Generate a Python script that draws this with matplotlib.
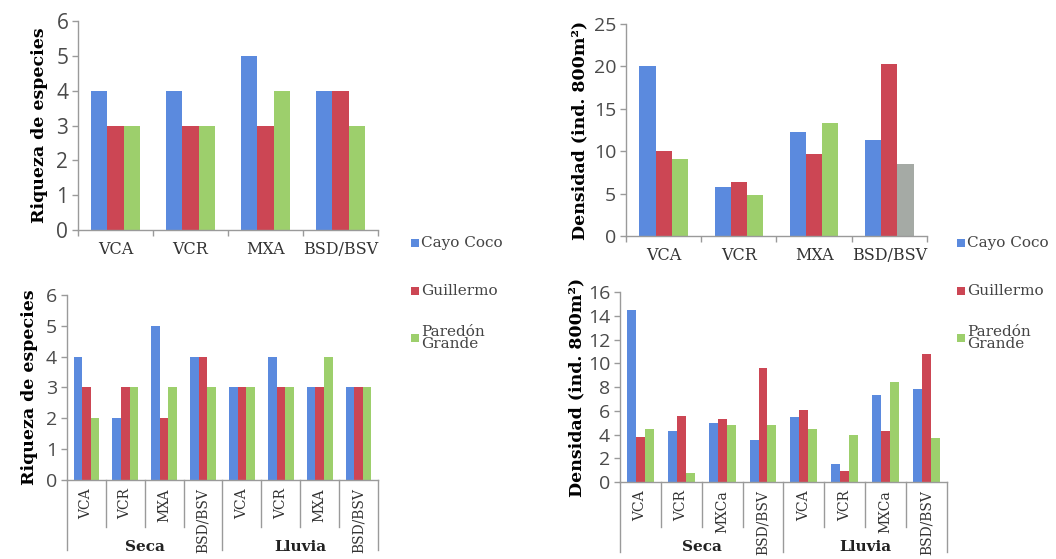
import matplotlib
matplotlib.use("Agg")
import matplotlib.pyplot as plt
from matplotlib.patches import Rectangle
import matplotlib.transforms as mtransforms
import numpy as np

# ---- data ----
sites = ["Cayo Coco", "Guillermo", "Paredón\nGrande"]
habitats = ["VCA", "VCR", "MXA", "BSD/BSV"]
habitats_season_rich = ["VCA", "VCR", "MXA", "BSD/BSV", "VCA", "VCR", "MXA", "BSD/BSV"]
habitats_season_dens = ["VCA", "VCR", "MXCa", "BSD/BSV", "VCA", "VCR", "MXCa", "BSD/BSV"]
seasons = ["Seca", "Lluvia"]

rich_cayo = [4, 4, 5, 4]
rich_guill = [3, 3, 3, 4]
rich_pared = [3, 3, 4, 3]

dens_cayo = [20.0, 5.8, 12.3, 11.3]
dens_guill = [10.0, 6.4, 9.7, 20.3]
dens_pared = [9.1, 4.8, 13.3, 8.5]

rich_s_cayo = [4, 2, 5, 4, 3, 4, 3, 3]
rich_s_guill = [3, 3, 2, 4, 3, 3, 3, 3]
rich_s_pared = [2, 3, 3, 3, 3, 3, 4, 3]

dens_s_cayo = [14.5, 4.3, 5.0, 3.5, 5.5, 1.5, 7.3, 7.8]
dens_s_guill = [3.8, 5.6, 5.3, 9.6, 6.1, 0.9, 4.3, 10.8]
dens_s_pared = [4.5, 0.8, 4.8, 4.8, 4.5, 4.0, 8.4, 3.7]

# ---- style ----
C_BLUE = "#5b8ade"
C_RED = "#cc4654"
C_GREEN = "#9dcf6c"
C_GRAY = "#a5aaa5"
colors = [C_BLUE, C_RED, C_GREEN]
SPINE = "#9a9a9a"
TICKTXT = "#4a4a4a"
SERIF = ["DejaVu Serif"]
NUMFONT = ["Open Sans", "DejaVu Sans"]

fig = plt.figure(figsize=(10.56, 5.59), dpi=100)


def style_axes(ax, ymax, ystep, numsize):
    for s in ["top", "right"]:
        ax.spines[s].set_visible(False)
    for s in ["left", "bottom"]:
        ax.spines[s].set_color(SPINE)
        ax.spines[s].set_linewidth(1.0)
    ax.set_ylim(0, ymax)
    ax.set_yticks(np.arange(0, ymax + 0.01, ystep))
    ax.tick_params(axis="y", colors=SPINE, length=4, width=1, pad=3)
    for lab in ax.get_yticklabels():
        lab.set_family(NUMFONT)
        lab.set_fontsize(numsize)
        lab.set_color(TICKTXT)


def grouped_bars(ax, series, width, override=None):
    n = len(series[0])
    x = np.arange(n)
    for k, vals in enumerate(series):
        cols = [colors[k]] * n
        if override and k in override:
            for idx, c in override[k].items():
                cols[idx] = c
        ax.bar(x + (k - 1) * width, vals, width=width, color=cols, linewidth=0)
    ax.set_xlim(-0.5, n - 0.5)
    return x


def simple_xaxis(ax, labels):
    n = len(labels)
    ax.set_xticks(np.arange(n))
    ax.set_xticklabels(labels, family=SERIF, fontsize=11.5, color="#333333")
    ax.set_xticks(np.arange(n + 1) - 0.5, minor=True)
    ax.tick_params(axis="x", which="major", length=0, pad=8)
    ax.tick_params(axis="x", which="minor", length=4, color=SPINE, width=1)


def season_xaxis(ax, labels, short, long_, label_y):
    n = len(labels)
    ax.set_xticks(np.arange(n))
    ax.set_xticklabels(labels, family=SERIF, fontsize=10, color="#333333",
                       rotation=90, va="top")
    ax.tick_params(axis="x", which="major", length=0, pad=6)
    trans = mtransforms.blended_transform_factory(ax.transData, ax.transAxes)
    for b in range(n + 1):
        xb = b - 0.5
        y_end = long_ if b % 4 == 0 else short
        ax.plot([xb, xb], [0, y_end], transform=trans, color=SPINE, lw=1.0,
                clip_on=False)
    for g, name in enumerate(seasons):
        ax.text(1.5 + 4 * g, label_y, name, transform=trans, ha="center",
                va="center", family=SERIF, fontsize=11, fontweight="bold",
                color="#222222")


def legend_block(x_fig, ys):
    for k, name in enumerate(sites):
        yy = ys[k]
        fig.patches.append(Rectangle((x_fig, yy - 0.008), 0.0075, 0.0145,
                                     transform=fig.transFigure,
                                     color=colors[k], lw=0))
        fig.text(x_fig + 0.0095, yy, name, family=SERIF, fontsize=11,
                 color="#444444", va="center", ha="left", linespacing=0.85)


# top-left: species richness
ax1 = fig.add_axes([0.0739, 0.5886, 0.2841, 0.3735])
grouped_bars(ax1, [rich_cayo, rich_guill, rich_pared], 0.215)
style_axes(ax1, 6, 1, 15)
simple_xaxis(ax1, habitats)
ax1.set_ylabel("Riqueza de especies", family=SERIF, fontsize=12.5,
               fontweight="bold", labelpad=6)

# top-right: density
ax2 = fig.add_axes([0.5928, 0.5778, 0.2850, 0.3792])
grouped_bars(ax2, [dens_cayo, dens_guill, dens_pared], 0.215,
             override={2: {3: C_GRAY}})
style_axes(ax2, 25, 5, 14)
simple_xaxis(ax2, habitats)
ax2.set_ylabel("Densidad (ind. 800m²)", family=SERIF, fontsize=12.5,
               fontweight="bold", labelpad=4)

# bottom-left: richness by season
ax3 = fig.add_axes([0.0634, 0.1413, 0.2946, 0.3310])
grouped_bars(ax3, [rich_s_cayo, rich_s_guill, rich_s_pared], 0.22)
style_axes(ax3, 6, 1, 14)
season_xaxis(ax3, habitats_season_rich, -0.254, -0.378, -0.362)
ax3.set_ylabel("Riqueza de especies", family=SERIF, fontsize=12.5,
               fontweight="bold", labelpad=6)

# bottom-right: density by season
ax4 = fig.add_axes([0.5870, 0.1377, 0.3098, 0.3399])
grouped_bars(ax4, [dens_s_cayo, dens_s_guill, dens_s_pared], 0.22)
style_axes(ax4, 16, 2, 14)
season_xaxis(ax4, habitats_season_dens, -0.237, -0.368, -0.342)
ax4.set_ylabel("Densidad (ind. 800m²)", family=SERIF, fontsize=12.5,
               fontweight="bold", labelpad=2)

legend_block(0.389, [1 - 243 / 559, 1 - 291 / 559, 1 - 338 / 559])
legend_block(0.906, [1 - 243 / 559, 1 - 291 / 559, 1 - 338 / 559])

fig.savefig("out.png", dpi=100, facecolor="white")
